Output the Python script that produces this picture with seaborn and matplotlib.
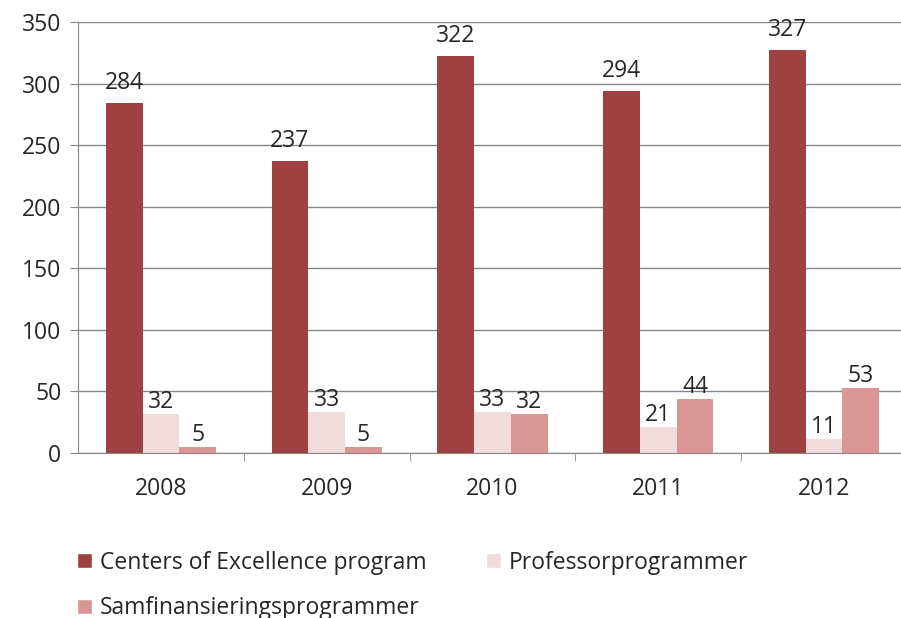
import pandas as pd
import matplotlib.pyplot as plt
import seaborn as sns
from matplotlib.patches import Patch

years = ["2008", "2009", "2010", "2011", "2012"]
series = ["Centers of Excellence program", "Professorprogrammer", "Samfinansieringsprogrammer"]
coe = [284, 237, 322, 294, 327]
professor = [32, 33, 33, 21, 11]
samfin = [5, 5, 32, 44, 53]
colors = ["#9E4140", "#F2DCDB", "#DA9694"]

df = pd.DataFrame({
    "year": years * 3,
    "program": [series[0]] * 5 + [series[1]] * 5 + [series[2]] * 5,
    "value": coe + professor + samfin,
})

sns.set_style("white")
plt.rcParams["font.family"] = ["Open Sans", "DejaVu Sans"]
FS = 16.5

fig = plt.figure(figsize=(9.01, 6.18), dpi=100)
ax = fig.add_axes([78 / 901, 1 - 453 / 618, (907 - 78) / 901, (453 - 22) / 618])

sns.barplot(data=df, x="year", y="value", hue="program", palette=colors,
            width=0.665, gap=0, saturation=1, linewidth=0, ax=ax, legend=False)

for i, c in enumerate(ax.containers):
    ax.bar_label(c, fontsize=FS, padding=6 if i == 0 else 0)

ax.set_ylim(0, 350)
ax.set_yticks(range(0, 351, 50))
ax.set_xlim(-0.5, 4.5)
ax.yaxis.grid(True, color="#868686", linewidth=1)
ax.set_axisbelow(True)
ax.set_xlabel("")
ax.set_ylabel("")
for s in ["top", "right"]:
    ax.spines[s].set_visible(False)
for s in ["left", "bottom"]:
    ax.spines[s].set_color("#868686")
ax.tick_params(axis="y", labelsize=FS, left=True, length=6, color="#868686", pad=6)
ax.tick_params(axis="x", labelsize=FS, bottom=False, pad=14)
ax.set_xticks([i + 0.5 for i in range(4)], minor=True)
ax.tick_params(axis="x", which="minor", bottom=True, length=6, color="#868686")

# column-major fill: put the third series first in column one's second row
order = [0, 2, 1]
handles = [Patch(facecolor=colors[i], label=series[i]) for i in order]
fig.legend(handles=handles, loc="upper left", bbox_to_anchor=(0.075, 0.124), ncol=2,
           frameon=False, fontsize=FS, handlelength=0.65, handleheight=0.65,
           handletextpad=0.35, columnspacing=2.6, labelspacing=0.95,
           borderaxespad=0)

plt.savefig("out.png", dpi=100)
plt.close()
